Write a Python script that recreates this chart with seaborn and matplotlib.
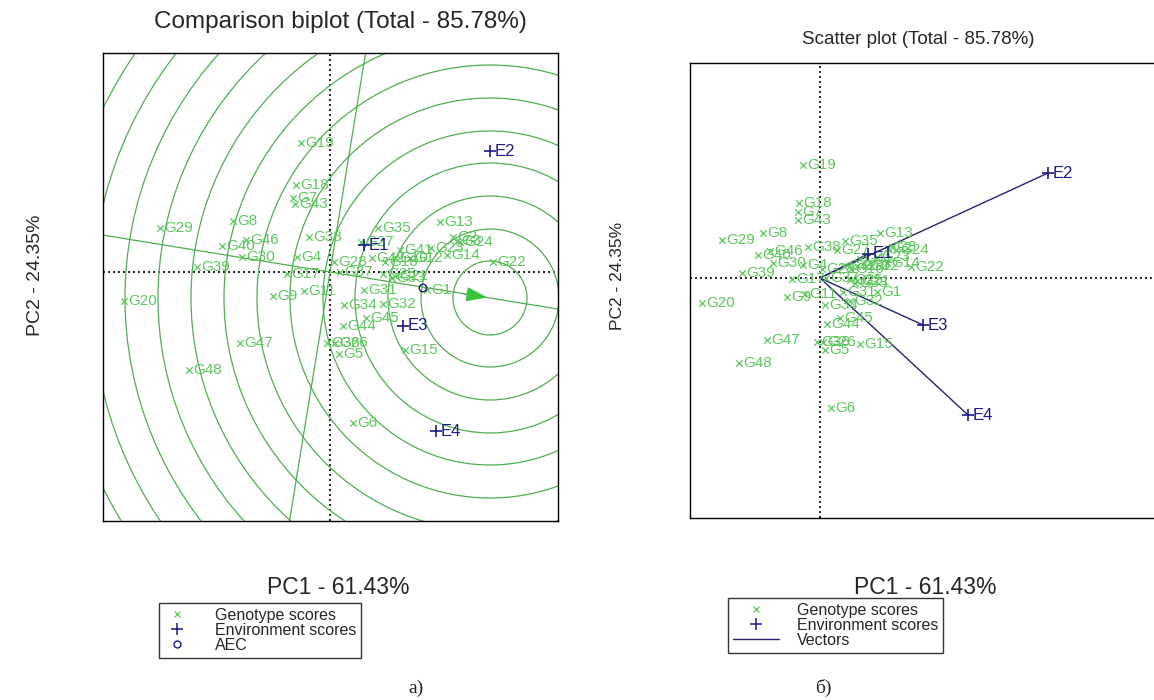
import matplotlib
matplotlib.use("Agg")
import matplotlib.pyplot as plt
import seaborn as sns
import numpy as np
import pandas as pd
from matplotlib.lines import Line2D
from matplotlib.patches import Circle

# ---------------- data ----------------
genotypes = ["G%d" % i for i in range(1, 49)]

# Comparison biplot (left panel) genotype scores
g_pc1_a = [0.97, 1.23, 1.27, -0.33, 0.09, 0.23, -0.37, -0.97, -0.57, 0.65,
           -0.26, 0.80, 1.10, 1.17, 0.75, 0.55, -0.43, -0.34, -0.29, -2.06,
           0.65, 1.63, 1.01, 1.30, 0.53, 0.05, 0.31, 0.04, -1.70, -0.88,
           0.34, 0.53, 0.62, 0.14, 0.48, -0.03, 0.10, -0.21, -1.33, -1.08,
           0.70, 0.42, -0.35, 0.13, 0.36, -0.84, -0.90, -1.41]
g_pc2_a = [-0.18, 0.35, 0.31, 0.15, -0.82, -1.51, 0.74, 0.51, -0.24, 0.14,
           -0.19, 0.14, 0.50, 0.17, -0.78, 0.10, -0.02, 0.87, 1.29, -0.29,
           -0.04, 0.10, 0.24, 0.30, -0.02, -0.71, 0.30, 0.10, 0.44, 0.15,
           -0.18, -0.32, -0.06, -0.33, 0.44, -0.71, 0.00, 0.35, 0.05, 0.26,
           0.22, 0.14, 0.68, -0.54, -0.46, 0.32, -0.71, -0.98]

# Scatter plot (right panel) genotype scores
g_pc1_b = [0.57, 0.68, 0.72, -0.17, 0.05, 0.11, -0.22, -0.57, -0.33, 0.37,
           -0.15, 0.46, 0.60, 0.67, 0.40, 0.31, -0.28, -0.21, -0.17, -1.18,
           0.37, 0.91, 0.57, 0.76, 0.30, 0.03, 0.17, 0.02, -0.98, -0.47,
           0.23, 0.30, 0.35, 0.05, 0.25, -0.03, 0.06, -0.12, -0.78, -0.62,
           0.40, 0.24, -0.22, 0.07, 0.20, -0.50, -0.53, -0.81]
g_pc2_b = [-0.14, 0.30, 0.31, 0.13, -0.72, -1.30, 0.66, 0.45, -0.19, 0.12,
           -0.16, 0.12, 0.45, 0.15, -0.66, 0.09, -0.01, 0.75, 1.13, -0.25,
           -0.03, 0.11, 0.21, 0.28, -0.02, -0.64, 0.28, 0.09, 0.38, 0.15,
           -0.14, -0.23, -0.05, -0.27, 0.37, -0.64, 0.00, 0.31, 0.05, 0.23,
           0.19, 0.12, 0.58, -0.46, -0.40, 0.27, -0.62, -0.85]

environments = ["E1", "E2", "E3", "E4"]
e_pc1_a = [0.34, 1.60, 0.73, 1.06]
e_pc2_a = [0.27, 1.21, -0.54, -1.59]
e_pc1_b = [0.48, 2.28, 1.03, 1.48]
e_pc2_b = [0.24, 1.05, -0.47, -1.37]

aec_point = [0.93, -0.16]          # average environment coordinate
ideal_point = [1.60, -0.26]        # arrow tip / circle centre
circle_radii = [0.37, 0.69, 1.02, 1.35, 1.67, 2.00, 2.33, 2.66, 2.99,
                3.32, 3.65, 3.98, 4.31, 4.64]

title_a = "Comparison biplot (Total - 85.78%)"
title_b = "Scatter plot (Total - 85.78%)"
xlabel = "PC1 - 61.43%"
ylabel = "PC2 - 24.35%"

# ---------------- style ----------------
sns.set_style("white")
plt.rcParams["font.family"] = ["Liberation Sans", "DejaVu Sans"]

G_COL = "#5cc75c"
CIRC_COL = "#4fae4f"
E_COL = "#1a1a86"
VEC_COL = "#23236e"

W, H = 1154, 700
fig = plt.figure(figsize=(W / 100, H / 100), dpi=100)


def ax_rect(l, t, r, b):
    return [l / W, 1 - b / H, (r - l) / W, (b - t) / H]


ax1 = fig.add_axes(ax_rect(103, 53, 558, 521))
ax2 = fig.add_axes(ax_rect(690, 63, 1160, 518))

gdf_a = pd.DataFrame({"g": genotypes, "x": g_pc1_a, "y": g_pc2_a})
gdf_b = pd.DataFrame({"g": genotypes, "x": g_pc1_b, "y": g_pc2_b})
edf_a = pd.DataFrame({"e": environments, "x": e_pc1_a, "y": e_pc2_a})
edf_b = pd.DataFrame({"e": environments, "x": e_pc1_b, "y": e_pc2_b})


def base_axes(ax, xlim, ylim):
    ax.set_xlim(*xlim)
    ax.set_ylim(*ylim)
    ax.set_xticks([])
    ax.set_yticks([])
    ax.set_xlabel("")
    ax.set_ylabel("")
    for s in ax.spines.values():
        s.set_color("black")
        s.set_linewidth(1.0)
    ax.axhline(0, color="black", ls=(0, (1.2, 1.8)), lw=1.2, zorder=1)
    ax.axvline(0, color="black", ls=(0, (1.2, 1.8)), lw=1.2, zorder=1)


def draw_points(ax, gdf, edf):
    sns.scatterplot(data=gdf, x="x", y="y", marker="x", color=G_COL, s=22,
                    linewidth=0.9, ax=ax, zorder=4, legend=False)
    for _, r in gdf.iterrows():
        ax.annotate(r["g"], (r["x"], r["y"]), xytext=(3, 0),
                    textcoords="offset points", ha="left", va="center",
                    fontsize=11, color=G_COL, zorder=5)
    sns.scatterplot(data=edf, x="x", y="y", marker="+", color=E_COL, s=80,
                    linewidth=1.2, ax=ax, zorder=6, legend=False)
    for _, r in edf.iterrows():
        ax.annotate(r["e"], (r["x"], r["y"]), xytext=(3.5, 0),
                    textcoords="offset points", ha="left", va="center",
                    fontsize=12, color=E_COL, zorder=7)


# ----- left panel: comparison biplot -----
base_axes(ax1, (-2.27, 2.28), (-2.49, 2.19))
for r in circle_radii:
    ax1.add_patch(Circle(ideal_point, r, fill=False, ec=CIRC_COL, lw=0.9,
                         zorder=2))
ax1.axline((0, 0), ideal_point, color=CIRC_COL, lw=0.9, zorder=2)
ax1.axline((0, 0), (-ideal_point[1], ideal_point[0]), color=CIRC_COL,
           lw=0.9, zorder=2)
ax1.annotate("", xy=ideal_point,
             xytext=(ideal_point[0] - 0.30, ideal_point[1] + 0.049),
             arrowprops=dict(arrowstyle="-|>,head_length=1.3,head_width=0.45",
                             color="#3bc43b", lw=1.0), zorder=3)
draw_points(ax1, gdf_a, edf_a)
sns.scatterplot(x=[aec_point[0]], y=[aec_point[1]], marker="o", s=30,
                facecolor="none", edgecolor=E_COL, linewidth=1.0, ax=ax1,
                zorder=8, legend=False)
ax1.set_xlabel("")
ax1.set_ylabel("")

# ----- right panel: scatter plot with vectors -----
base_axes(ax2, (-1.30, 3.40), (-2.40, 2.15))
for _, r in edf_b.iterrows():
    ax2.plot([0, r["x"]], [0, r["y"]], color=VEC_COL, lw=1.0, zorder=3)
draw_points(ax2, gdf_b, edf_b)
ax2.set_xlabel("")
ax2.set_ylabel("")

# ----- titles and axis labels -----
fig.text(340 / W, 1 - 22 / H, title_a, ha="center", va="center", fontsize=17.5)
fig.text(918 / W, 1 - 40 / H, title_b, ha="center", va="center",
         fontsize=13.5)
fig.text(338 / W, 1 - 588 / H, xlabel, ha="center", va="center", fontsize=16.5)
fig.text(925 / W, 1 - 588 / H, xlabel, ha="center", va="center", fontsize=16.5)
fig.text(35 / W, 1 - 275 / H, ylabel, ha="center", va="center", fontsize=14,
         rotation=90)
fig.text(617 / W, 1 - 276 / H, ylabel, ha="center", va="center",
         fontsize=12.5, rotation=90)
fig.text(416 / W, 1 - 688 / H, "a)", ha="center", va="center", fontsize=14,
         family=["Liberation Serif", "DejaVu Serif"])
fig.text(823 / W, 1 - 688 / H, "б)", ha="center", va="center", fontsize=14,
         family=["Liberation Serif", "DejaVu Serif"])

# ----- legends -----
h_g = Line2D([], [], ls="none", marker="x", color=G_COL, ms=5, mew=0.9)
h_e = Line2D([], [], ls="none", marker="+", color=E_COL, ms=8, mew=1.1)
h_o = Line2D([], [], ls="none", marker="o", mfc="none", mec=E_COL, ms=5,
             mew=1.0)
h_v = Line2D([], [], color=VEC_COL, lw=1.0)

leg1 = fig.legend([h_g, h_e, h_o],
                  ["Genotype scores", "Environment scores", "AEC"],
                  loc="upper left", bbox_to_anchor=(159 / W, 1 - 603 / H),
                  fontsize=11.5, frameon=True, fancybox=False,
                  edgecolor="black", labelspacing=0.0, handlelength=1.6,
                  handletextpad=1.6, borderpad=0.3, borderaxespad=0)
leg1.get_frame().set_linewidth(1.0)
leg2 = fig.legend([h_g, h_e, h_v],
                  ["Genotype scores", "Environment scores", "Vectors"],
                  loc="upper left", bbox_to_anchor=(728 / W, 1 - 598 / H),
                  fontsize=11.5, frameon=True, fancybox=False,
                  edgecolor="black", labelspacing=0.0, handlelength=2.9,
                  handletextpad=1.1, borderpad=0.3, borderaxespad=0)
leg2.get_frame().set_linewidth(1.0)

fig.savefig("out.png", dpi=100, facecolor="white")
